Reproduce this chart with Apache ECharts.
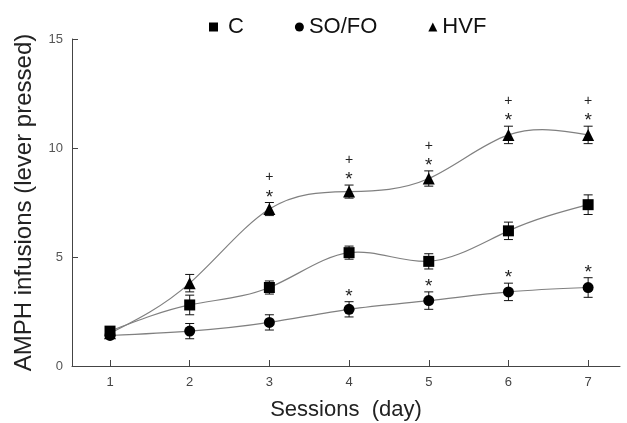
<!DOCTYPE html>
<html><head><meta charset="utf-8">
<script src="https://cdn.jsdelivr.net/npm/echarts@6/dist/echarts.min.js"></script>
<style>html,body{margin:0;padding:0;background:#fff}#c{width:627px;height:423px}</style>
</head><body><div id="c"></div>
<script>
const days = [1, 2, 3, 4, 5, 6, 7];
const yTicks = [0, 5, 10, 15];
const seriesNames = ['C', 'SO/FO', 'HVF'];
const cVals = [1.6, 2.8, 3.6, 5.2, 4.8, 6.2, 7.4];
const cErr = [0.15, 0.45, 0.3, 0.3, 0.35, 0.4, 0.45];
const soVals = [1.4, 1.6, 2.0, 2.6, 3.0, 3.4, 3.6];
const soErr = [0.1, 0.35, 0.35, 0.35, 0.4, 0.4, 0.45];
const hvfVals = [1.5, 3.8, 7.2, 8.0, 8.6, 10.6, 10.6];
const hvfErr = [0.1, 0.4, 0.3, 0.3, 0.35, 0.4, 0.4];
const soStar = [0, 0, 0, 1, 1, 1, 1];
const hvfStar = [0, 0, 1, 1, 1, 1, 1];
const hvfPlus = [0, 0, 1, 1, 1, 1, 1];
const noMark = [0, 0, 0, 0, 0, 0, 0];

const FONT = '"Liberation Sans", Arial, sans-serif';
const chart = echarts.init(document.getElementById('c'));

function pairs(vals) { return days.map((d, i) => [d, vals[i]]); }
function errData(vals, err, star, plus) {
  return days.map((d, i) => [d, vals[i], err[i], star[i], plus[i]]);
}

// natural cubic spline second derivatives
function splineM(xs, ys) {
  const n = xs.length;
  const M = new Array(n).fill(0);
  if (n < 3) return M;
  const a = [], b = [], c = [], r = [];
  for (let i = 1; i < n - 1; i++) {
    const h0 = xs[i] - xs[i - 1], h1 = xs[i + 1] - xs[i];
    a.push(h0); b.push(2 * (h0 + h1)); c.push(h1);
    r.push(6 * ((ys[i + 1] - ys[i]) / h1 - (ys[i] - ys[i - 1]) / h0));
  }
  const m = b.length;
  for (let i = 1; i < m; i++) {
    const w = a[i] / b[i - 1];
    b[i] -= w * c[i - 1];
    r[i] -= w * r[i - 1];
  }
  const sol = new Array(m);
  sol[m - 1] = r[m - 1] / b[m - 1];
  for (let i = m - 2; i >= 0; i--) sol[i] = (r[i] - c[i] * sol[i + 1]) / b[i];
  for (let i = 0; i < m; i++) M[i + 1] = sol[i];
  return M;
}
function makeCurveRenderer(vals) {
  return function (params, api) {
    if (params.dataIndex !== 0) return null;
    const M = splineM(days, vals);
    const p0 = api.coord([days[0], vals[0]]);
    let d = 'M' + p0[0] + ' ' + p0[1];
    for (let i = 0; i < days.length - 1; i++) {
      const h = days[i + 1] - days[i];
      const dy = (vals[i + 1] - vals[i]) / h;
      const s0 = dy - h * (2 * M[i] + M[i + 1]) / 6;
      const s1 = dy + h * (M[i] + 2 * M[i + 1]) / 6;
      const c1 = api.coord([days[i] + h / 3, vals[i] + s0 * h / 3]);
      const c2 = api.coord([days[i + 1] - h / 3, vals[i + 1] - s1 * h / 3]);
      const p1 = api.coord([days[i + 1], vals[i + 1]]);
      d += ' C' + c1[0] + ' ' + c1[1] + ' ' + c2[0] + ' ' + c2[1] + ' ' + p1[0] + ' ' + p1[1];
    }
    return { type: 'path', shape: { pathData: d }, style: { fill: null, stroke: '#808080', lineWidth: 1.2 } };
  };
}
function renderErr(params, api) {
  const x = api.value(0), y = api.value(1), e = api.value(2);
  const star = api.value(3), plus = api.value(4);
  const top = api.coord([x, y + e]);
  const bot = api.coord([x, y - e]);
  const cw = 4.5;
  const st = { stroke: '#111', lineWidth: 1 };
  const children = [
    { type: 'line', shape: { x1: top[0], y1: top[1], x2: bot[0], y2: bot[1] }, style: st },
    { type: 'line', shape: { x1: top[0] - cw, y1: top[1], x2: top[0] + cw, y2: top[1] }, style: st },
    { type: 'line', shape: { x1: bot[0] - cw, y1: bot[1], x2: bot[0] + cw, y2: bot[1] }, style: st }
  ];
  if (star) {
    children.push({ type: 'text', x: top[0], y: top[1] - 5, style: { text: '*', font: '19px ' + FONT, fill: '#222', align: 'center', verticalAlign: 'middle' } });
  }
  if (plus) {
    children.push({ type: 'text', x: top[0], y: top[1] - 25, style: { text: '+', font: '14px ' + FONT, fill: '#222', align: 'center', verticalAlign: 'middle' } });
  }
  return { type: 'group', children: children };
}
const triangle = 'path://M0,-10L8.66,5L-8.66,5Z';
const scatterCommon = { type: 'scatter', itemStyle: { color: '#000', opacity: 1 }, z: 4 };

chart.setOption({
  animation: false,
  textStyle: { fontFamily: FONT },
  grid: { left: 72, right: 7, top: 39, bottom: 57, outerBoundsMode: 'none', containLabel: false },
  legend: {
    top: 11, left: 204, itemWidth: 9, itemHeight: 9, itemGap: 51,
    textStyle: { fontSize: 22, color: '#111', fontFamily: FONT },
    data: [
      { name: 'C', icon: 'rect', textStyle: { padding: [0, 0, 0, 5] } },
      { name: 'SO/FO', icon: 'circle' },
      { name: 'HVF', icon: 'triangle' }
    ]
  },
  xAxis: {
    type: 'value', min: 0.523, max: 7.4,
    name: 'Sessions  (day)', nameLocation: 'middle', nameGap: 33,
    nameTextStyle: { fontSize: 22, color: '#222' },
    splitLine: { show: false },
    axisLine: { lineStyle: { color: '#444', width: 1 } },
    axisTick: { inside: true, length: 6, customValues: days, lineStyle: { color: '#444' } },
    axisLabel: { customValues: days, fontSize: 13, color: '#444', margin: 10 }
  },
  yAxis: {
    type: 'value', min: 0, max: 15, interval: 5,
    name: 'AMPH infusions (lever pressed)', nameLocation: 'middle', nameGap: 36,
    nameTextStyle: { fontSize: 24, color: '#222' },
    splitLine: { show: false },
    axisLine: { show: true, lineStyle: { color: '#444', width: 1 } },
    axisTick: { show: true, inside: true, length: 6, lineStyle: { color: '#444' } },
    axisLabel: { fontSize: 13, color: '#555', margin: 9, customValues: yTicks }
  },
  series: [
    { type: 'custom', renderItem: makeCurveRenderer(cVals), data: pairs(cVals), z: 1, silent: true },
    { type: 'custom', renderItem: makeCurveRenderer(soVals), data: pairs(soVals), z: 1, silent: true },
    { type: 'custom', renderItem: makeCurveRenderer(hvfVals), data: pairs(hvfVals), z: 1, silent: true },
    { type: 'custom', renderItem: renderErr, data: errData(cVals, cErr, noMark, noMark), z: 2, silent: true },
    { type: 'custom', renderItem: renderErr, data: errData(soVals, soErr, soStar, noMark), z: 2, silent: true },
    { type: 'custom', renderItem: renderErr, data: errData(hvfVals, hvfErr, hvfStar, hvfPlus), z: 2, silent: true },
    Object.assign({}, scatterCommon, { name: seriesNames[0], symbol: 'rect', symbolSize: 11, data: pairs(cVals) }),
    Object.assign({}, scatterCommon, { name: seriesNames[1], symbol: 'circle', symbolSize: 11, data: pairs(soVals) }),
    Object.assign({}, scatterCommon, { name: seriesNames[2], symbol: triangle, symbolSize: 12, data: pairs(hvfVals) })
  ]
});
</script></body></html>
